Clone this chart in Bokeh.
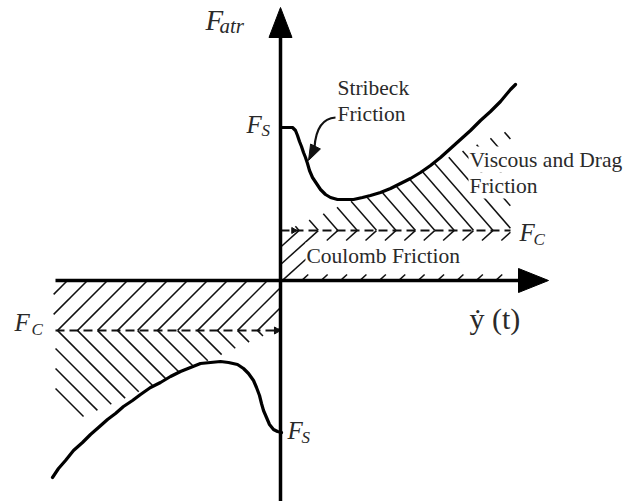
import numpy as np
from bokeh.plotting import figure
from bokeh.models import Range1d
from bokeh.core.properties import value
from bokeh.embed import file_html
from bokeh.resources import INLINE

# Friction levels in drawing units (origin = zero velocity, zero force)
F_S = 153          # static (breakaway) friction
F_C = 50           # Coulomb friction level

# Friction force vs. velocity, positive velocity branch
pos_v = [0, 7, 12, 15, 17, 19, 21, 23, 25, 27, 29, 32, 36, 40, 45, 50, 57, 65, 73,
         82, 90, 100, 110, 120, 130, 140, 150, 160, 170, 180, 190, 200, 210, 220, 230, 235]
pos_f = [153, 153, 153, 150, 145, 139, 134, 128, 123, 117, 110, 103, 97, 91, 86, 83, 81, 81, 81,
         83, 85, 88, 92, 97, 102, 108, 115, 123, 132, 141, 150, 160, 169, 179, 191, 196]

# negative velocity branch
neg_v = [1, -3, -7, -11, -14, -17, -19, -21, -24, -27, -32, -37, -43, -52, -60, -70, -80,
         -90, -100, -110, -120, -130, -140, -148, -157, -165, -173, -182, -190, -198,
         -207, -215, -222, -228]
neg_f = [-152, -151, -149, -144, -137, -130, -123, -115, -107, -100, -93, -88, -84, -82,
         -81, -82, -83, -87, -91, -96, -102, -107, -114, -120, -126, -133, -139, -147,
         -154, -162, -170, -180, -188, -197]

# extent of the hatched friction regions along the velocity axis
V_MAX = 230
V_MIN = -227

INK = "#111111"
TEXT = "#2a2a2a"
SERIF = value("Liberation Serif")
TEXT_SHIFT = 8   # baseline correction for the SVG text layer

p = figure(width=623, height=501, x_range=Range1d(-280, 343), y_range=Range1d(-221, 280),
           x_axis_type=None, y_axis_type=None, toolbar_location=None,
           output_backend="svg", min_border=0, outline_line_color=None,
           background_fill_color="white", border_fill_color="white")
p.grid.visible = False


def upper(x):
    return np.interp(x, pos_v, pos_f)


def lower(x):
    return np.interp(x, neg_v[::-1], neg_f[::-1])


def hatch_segments(anchors, y0, slope, inside, reach=320, n=2400):
    """Straight hatch lines through (a, y0), clipped to a region mask."""
    xs, ys = [], []
    for a in anchors:
        x = np.linspace(a - reach, a + reach, n)
        y = y0 + slope * (x - a)
        m = inside(x, y)
        if not m.any():
            continue
        d = np.diff(m.astype(int))
        starts = list(np.where(d == 1)[0] + 1)
        ends = list(np.where(d == -1)[0])
        if m[0]:
            starts.insert(0, 0)
        if m[-1]:
            ends.append(n - 1)
        for s, e in zip(starts, ends):
            if e > s:
                xs.append([x[s], x[e]])
                ys.append([y[s], y[e]])
    return xs, ys


# viscous/drag region: between the Coulomb level and the friction curve
anch_pos = 18.5 + 19.4 * np.arange(0, 19)
xa, ya = hatch_segments(
    anch_pos, F_C, -1.15,
    lambda x, y: (y >= F_C) & (y <= upper(x) - 1) & (x <= V_MAX) & (x >= 5)
    & (y <= F_C + 0.45 * (x - 5)))

# Coulomb band, positive side
xb, yb = hatch_segments(
    anch_pos, F_C, 0.9,
    lambda x, y: (y >= 0) & (y <= F_C) & (x >= 0) & (x <= V_MAX)
    & ((y >= F_C - 10) | (y <= 6) | (x <= 27)))

# Coulomb band, negative side
anch_neg = -283 + 20 * np.arange(0, 15)
xc, yc = hatch_segments(
    anch_neg, -F_C, 1.0,
    lambda x, y: (y <= 0) & (y >= -F_C) & (x >= V_MIN) & (x <= 0))

# viscous/drag region, negative side
xd, yd = hatch_segments(
    anch_neg, -F_C, -1.0,
    lambda x, y: (y <= -F_C) & (y >= lower(x) + 1) & (x >= V_MIN + 2) & (x <= -5)
    & (y >= -F_C - 0.45 * (-x - 5)))

p.multi_line(xa + xb + xc + xd, ya + yb + yc + yd, line_color=INK, line_width=1.5)

# Coulomb friction levels (dashed)
p.line([0, V_MAX], [F_C, F_C], line_color=INK, line_width=2, line_dash="9 5")
p.line([V_MIN + 2, -4], [-F_C, -F_C], line_color=INK, line_width=2, line_dash="9 5")
p.scatter([-4], [-F_C], marker="triangle", size=7, angle=-np.pi / 2,
          fill_color=INK, line_color=INK)
p.scatter([13], [F_C], marker="triangle", size=6, angle=-np.pi / 2,
          fill_color=INK, line_color=INK)

# Axes with filled arrow heads
p.line([0, 0], [-221, 246], line_color="black", line_width=3.5)
p.line([-225, 240], [0, 0], line_color="black", line_width=3.5)
p.patch([0, -11.5, 11.5], [273, 243, 243], fill_color="black", line_color="black")
p.patch([268, 238, 238], [0, 12, -12], fill_color="black", line_color="black")

# Friction curves
p.line(pos_v, pos_f, line_color="black", line_width=3.2, line_join="round", line_cap="round")
p.line(neg_v, neg_f, line_color="black", line_width=3.2, line_join="round", line_cap="round")

# Curved pointer to the Stribeck region
p.bezier(x0=[55], y0=[163], x1=[34], y1=[133], cx0=[40], cy0=[162], cx1=[35], cy1=[148],
         line_color=INK, line_width=2.2)
tip = np.array([28.0, 120.0])
base = np.array([35.0, 134.0])
dvec = (tip - base) / np.linalg.norm(tip - base)
perp = np.array([-dvec[1], dvec[0]]) * 5.5
p.patch([tip[0], base[0] + perp[0], base[0] - perp[0]],
        [tip[1], base[1] + perp[1], base[1] - perp[1]],
        fill_color=INK, line_color=INK)


# Text labels
def label(x, y, s, size, style="normal", bg=None):
    kw = dict(text_font=SERIF, text_font_size=size, text_font_style=style,
              text_color=TEXT, text_baseline="alphabetic", text_align="left")
    if bg:
        kw.update(background_fill_color=bg, padding=1)
    p.text([x], [y + TEXT_SHIFT], text=[s], **kw)


label(-75, 253, "F", "29px", "italic")
label(-61, 247, "atr", "21px", "italic")
label(-34, 148, "F", "25px", "italic")
label(-19, 142, "S", "17px", "italic")
label(7, -158, "F", "25px", "italic")
label(21, -165, "S", "17px", "italic")
label(239, 40, "F", "25px", "italic")
label(253, 33, "C", "17px", "italic")
label(-266, -50, "F", "25px", "italic")
label(-249, -57, "C", "17px", "italic")
label(189, -46, "\u1e8f (t)", "30px")

label(57, 185, "Stribeck", "21.5px")
label(57, 159, "Friction", "21.5px")
label(188, 113, "Viscous and Drag", "21.5px", bg="white")
label(188, 87, "Friction", "21.5px", bg="white")
label(25, 17, "Coulomb Friction", "21.5px", bg="white")

open("out.html", "w").write(file_html(p, INLINE))
